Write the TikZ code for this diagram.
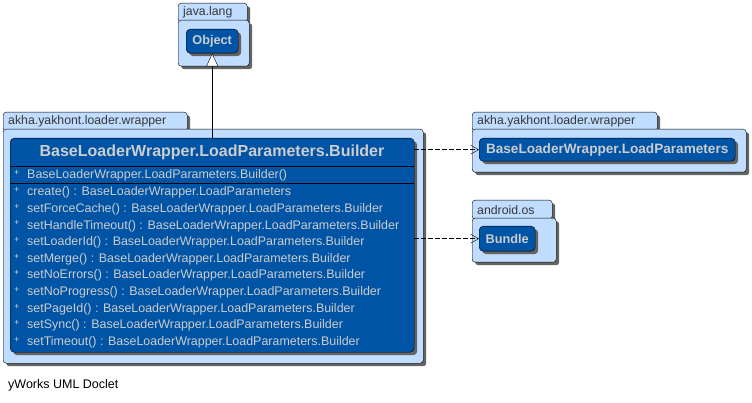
\documentclass[tikz,border=0pt]{standalone}
\usepackage{fontspec}
\setmainfont{Liberation Sans}
\usetikzlibrary{shadows,arrows.meta}
\definecolor{pkgfill}{RGB}{192,220,255}
\definecolor{classfill}{RGB}{0,84,166}
\definecolor{classtext}{RGB}{205,205,205}
\definecolor{pkgtext}{RGB}{55,55,55}
\definecolor{shadowgray}{RGB}{100,100,100}
\tikzstyle{boxshadow}=[drop shadow={shadow xshift=3pt, shadow yshift=-3pt, fill=shadowgray, opacity=1}]
\tikzstyle{pkg}=[draw, fill=pkgfill, rounded corners=3pt, anchor=north west, inner sep=0pt, boxshadow]
\tikzstyle{pkgtab}=[pkg, font=\fontsize{12.3}{12.3}\selectfont, text=pkgtext, align=left, inner xsep=5pt, minimum height=19pt]
\tikzstyle{umlclass}=[draw, fill=classfill, rounded corners=4pt, anchor=north west, inner sep=0pt, boxshadow]
\tikzstyle{classname}=[text=classtext, font=\bfseries\fontsize{12.7}{12.7}\selectfont]
\tikzstyle{member}=[text=classtext, font=\fontsize{12.45}{12.45}\selectfont, anchor=west, inner sep=0pt]

\begin{document}
\begin{tikzpicture}[x=1pt, y=-1pt]
\useasboundingbox (0,0) rectangle (752,403);
% Packages
    \node[pkgtab, text width=59pt] (langtab) at (178,3) {java.lang};
    \node[pkg, minimum width=71pt, minimum height=46pt] (langpkg) at (178,20) {};
    \node[pkgtab, text width=174pt] (wraptab) at (3,112) {akha.yakhont.loader.wrapper};
    \node[pkg, minimum width=420pt, minimum height=234pt] (wrappkg) at (3,129) {};
    \node[pkgtab, text width=175pt] (lptab) at (472,112) {akha.yakhont.loader.wrapper};
    \node[pkg, minimum width=274pt, minimum height=43pt] (lppkg) at (472,129) {};
    \node[pkgtab, text width=70pt] (ostab) at (472,200) {android.os};
    \node[pkg, minimum width=84pt, minimum height=44pt] (ospkg) at (472,218) {};
% Classes
    \node[umlclass, classname, minimum width=52pt, minimum height=24pt] (object) at (186,29) {Object};
    \node[umlclass, classname, font=\bfseries\fontsize{13.6}{13.6}\selectfont, minimum width=256pt, minimum height=23pt] (loadparams) at (479,138) {BaseLoaderWrapper.LoadParameters};
    \node[umlclass, classname, minimum width=56pt, minimum height=25pt] (bundle) at (479,226) {Bundle};
    \node[umlclass, minimum width=404pt, minimum height=214pt] (builder) at (10,138) {};
    \node[classname, font=\bfseries\fontsize{16}{16}\selectfont] (buildername) at (212,152) {BaseLoaderWrapper.LoadParameters.Builder};
    \draw (builder.west |- 0,166) -- (builder.east |- 0,166);
    \draw (builder.west |- 0,183.5) -- (builder.east |- 0,183.5);
% Members
    \node[member] (ctor) at (27,175.5) {BaseLoaderWrapper.LoadParameters.Builder()};
    \node[member, font=\fontsize{9}{9}\selectfont] at (14,173) {+};
    \foreach \m [count=\i from 0] in {create() : BaseLoaderWrapper.LoadParameters,
        setForceCache() : BaseLoaderWrapper.LoadParameters.Builder,
        setHandleTimeout() : BaseLoaderWrapper.LoadParameters.Builder,
        setLoaderId() : BaseLoaderWrapper.LoadParameters.Builder,
        setMerge() : BaseLoaderWrapper.LoadParameters.Builder,
        setNoErrors() : BaseLoaderWrapper.LoadParameters.Builder,
        setNoProgress() : BaseLoaderWrapper.LoadParameters.Builder,
        setPageId() : BaseLoaderWrapper.LoadParameters.Builder,
        setSync() : BaseLoaderWrapper.LoadParameters.Builder,
        setTimeout() : BaseLoaderWrapper.LoadParameters.Builder}
    {
        \node[member] (m\i) at (27,192.5+16.65*\i) {\m};
        \node[member, font=\fontsize{9}{9}\selectfont] at (14,190+16.65*\i) {+};
    }
% Relations
    \draw[-{Triangle[open, fill=white, length=13pt, width=12pt]}] (builder.north) -- (object.south);
    \draw[dash pattern=on 5pt off 2pt, -{Straight Barb[length=8pt, width=9pt]}] (builder.east |- loadparams.west) -- (loadparams.west);
    \draw[dash pattern=on 5pt off 2pt, -{Straight Barb[length=8pt, width=9pt]}] (builder.east |- bundle.west) -- (bundle.west);
% Caption
    \node[anchor=west, inner sep=0pt, font=\fontsize{12.5}{12.5}\selectfont] (caption) at (8,385) {yWorks UML Doclet};
\end{tikzpicture}
\end{document}
